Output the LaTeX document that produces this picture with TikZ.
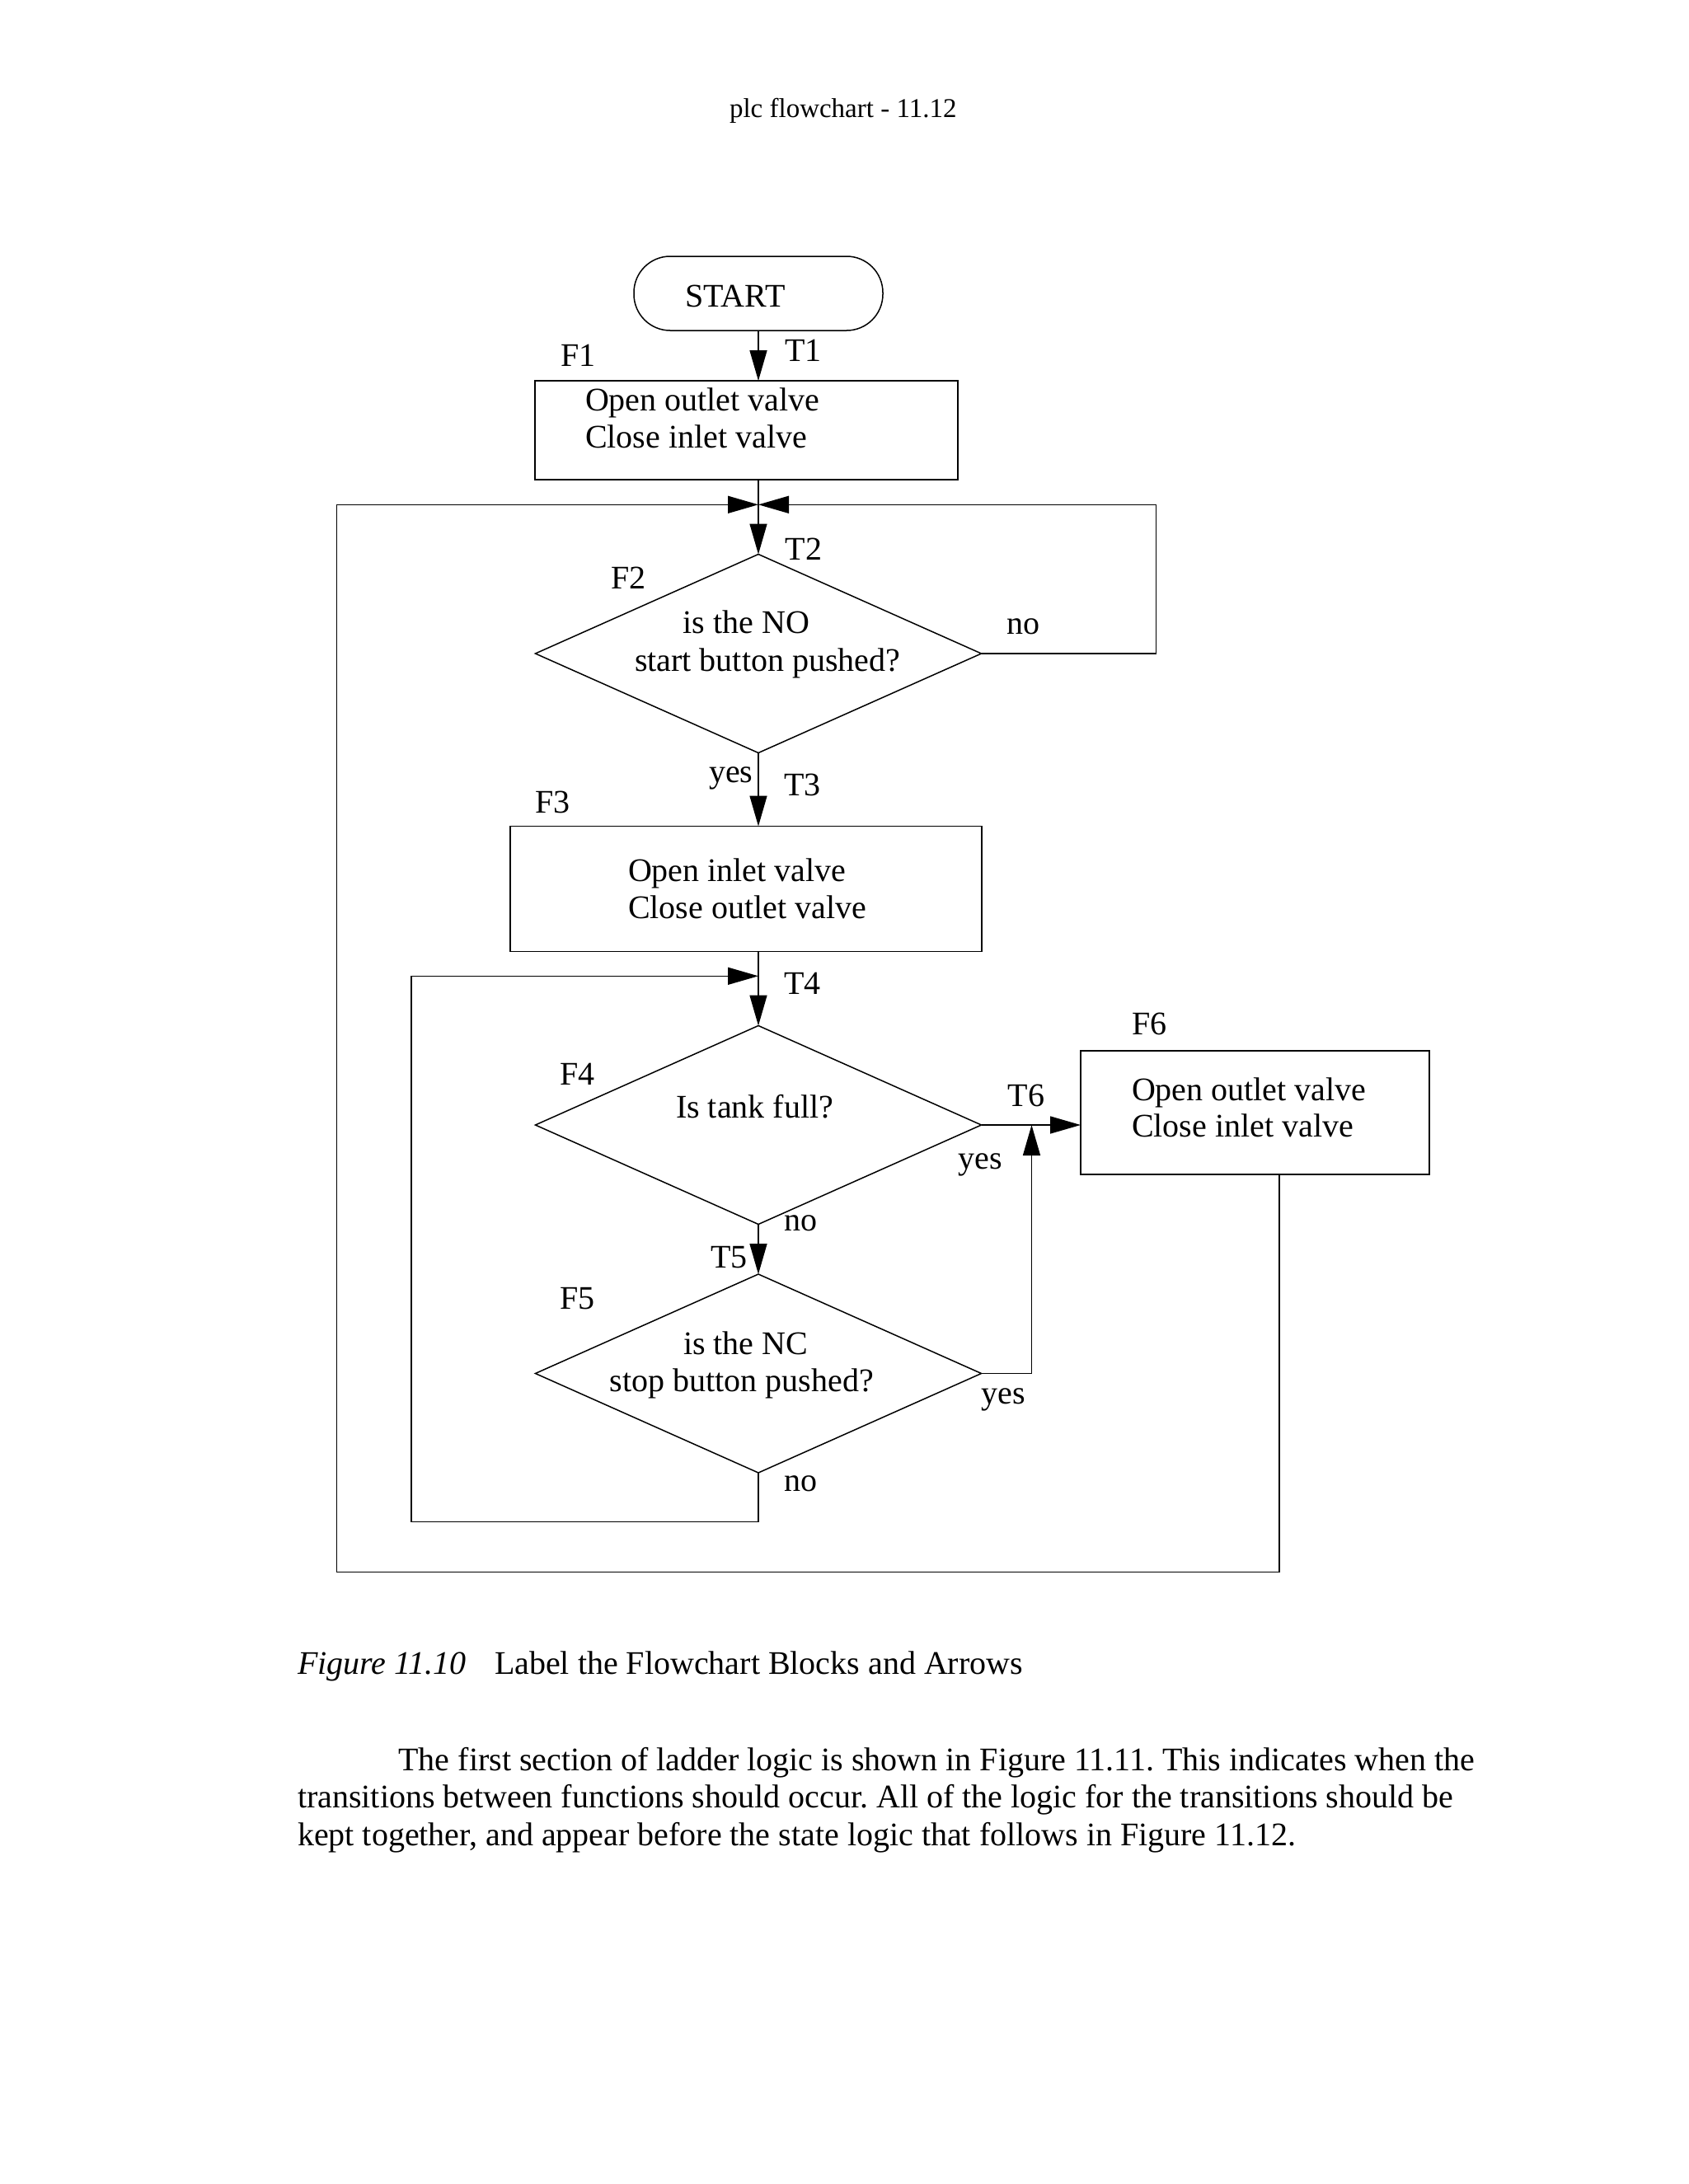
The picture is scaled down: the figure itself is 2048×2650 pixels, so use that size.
\documentclass[tikz,border=0pt]{standalone}
\usepackage{fontspec}
\setmainfont{Liberation Serif}
\usetikzlibrary{arrows.meta,shapes.geometric}
\frenchspacing
\begin{document}
\begin{tikzpicture}[x=1pt,y=-1pt,
  ln/.style={line width=1.5pt},
  arr/.style={ln,-{Triangle[length=37pt,width=21pt]}},
  boxnode/.style={draw,ln,rectangle,inner sep=0,outer sep=0},
  decnode/.style={draw,ln,diamond,inner sep=0,outer sep=0,minimum width=541pt,minimum height=241pt},
  txt/.style={inner sep=0,outer sep=0,anchor=base west,yshift=-1.5pt,font=\fontsize{40}{45}\selectfont},
  hdr/.style={inner sep=0,outer sep=0,anchor=base west,font=\fontsize{33}{40}\selectfont}]
\fill[white] (0,0) rectangle (2048,2650);
\useasboundingbox (0,0) rectangle (2048,2650);

% header
\node[hdr] (head) at (885,142.7) {plc flowchart - 11.12};

% shapes
\node[boxnode,rounded corners=44pt,minimum width=302pt,minimum height=90pt] (start) at (920,356) {};
\node[boxnode,minimum width=513pt,minimum height=120pt] (f1) at (905.5,522) {};
\node[decnode] (f2) at (920,793) {};
\node[boxnode,minimum width=572pt,minimum height=152pt] (f3) at (905,1078.5) {};
\node[decnode] (f4) at (920,1365) {};
\node[decnode] (f5) at (920,1666.5) {};
\node[boxnode,minimum width=423pt,minimum height=150pt] (f6) at (1522.5,1350) {};

% texts in shapes
\node[txt] (tstart) at (831.5,370.7) {START};
\node[txt] (tf1a) at (710,496.7) {Open outlet valve};
\node[txt] (tf1b) at (710,541.7) {Close inlet valve};
\node[txt] (tf2a) at (828.7,767) {is the NO};
\node[txt] (tf2b) at (770,813) {start button pushed?};
\node[txt] (tf3a) at (762,1068.4) {Open inlet valve};
\node[txt] (tf3b) at (762,1113) {Close outlet valve};
\node[txt] (tf4) at (820,1355.4) {Is tank full?};
\node[txt] (tf5a) at (829,1641.7) {is the NC};
\node[txt] (tf5b) at (739.8,1687.3) {stop button pushed?};
\node[txt] (tf6a) at (1373,1334.4) {Open outlet valve};
\node[txt] (tf6b) at (1373,1377.6) {Close inlet valve};

% block labels
\node[txt] (lf1) at (680,442.7) {F1};
\node[txt] (lf2) at (741.6,713) {F2};
\node[txt] (lf3) at (649.6,985) {F3};
\node[txt] (lf4) at (679,1315) {F4};
\node[txt] (lf5) at (679,1586.7) {F5};
\node[txt] (lf6) at (1373,1254) {F6};

% transition labels
\node[txt] (lt1) at (952,436.7) {T1};
\node[txt] (lt2) at (952.6,677.7) {T2};
\node[txt] (lt3) at (951,964) {T3};
\node[txt] (lt4) at (951,1205) {T4};
\node[txt] (lt5) at (862,1537) {T5};
\node[txt] (lt6) at (1222.7,1340.7) {T6};

% yes/no labels
\node[txt] (no2) at (1221.7,768.3) {no};
\node[txt] (yes2) at (860,948) {yes};
\node[txt] (yes4) at (1162.7,1416.7) {yes};
\node[txt] (no4) at (951,1491.5) {no};
\node[txt] (yes5) at (1190.7,1701.7) {yes};
\node[txt] (no5) at (951,1808) {no};

% junction coordinates
\coordinate (j1) at (920,612.3);
\coordinate (nR) at (1402.6,612.3);
\coordinate (oL) at (408.6,1907.3);
\coordinate (j2) at (920,1184.3);
\coordinate (iL) at (498.8,1846.7);
\coordinate (j3) at (1251.5,1365);

% connectors
\draw[arr] (start.south) -- (start.south |- f1.north);
\draw[arr] (f1.south -| f2.north) -- (f2.north);
\draw[arr] ([xshift=29.5pt]f6.south) |- (oL) |- (j1);
\draw[arr] (f2.east) -| (nR) -- (j1);
\draw[arr] (f2.south) -- (f2.south |- f3.north);
\draw[arr] (f3.south -| f4.north) -- (f4.north);
\draw[arr] (f5.south) |- (iL) |- (j2);
\draw[arr] (f4.south) -- (f5.north);
\draw[arr] (f4.east) -- (f4.east -| f6.west);
\draw[arr] (f5.east) -| (j3);

% caption and paragraph
\node[txt] (capa) at (361,2030) {\itshape Figure 11.10};
\node[txt] (capb) at (600,2030) {Label the Flowchart Blocks and Arrows};
\node[txt] (p1) at (483.5,2146.7) {The first section of ladder logic is shown in Figure 11.11. This indicates when the};
\node[txt] (p2) at (361,2191.7) {transitions between functions should occur. All of the logic for the transitions should be};
\node[txt] (p3) at (361,2238.3) {kept together, and appear before the state logic that follows in Figure 11.12.};
\end{tikzpicture}
\end{document}
